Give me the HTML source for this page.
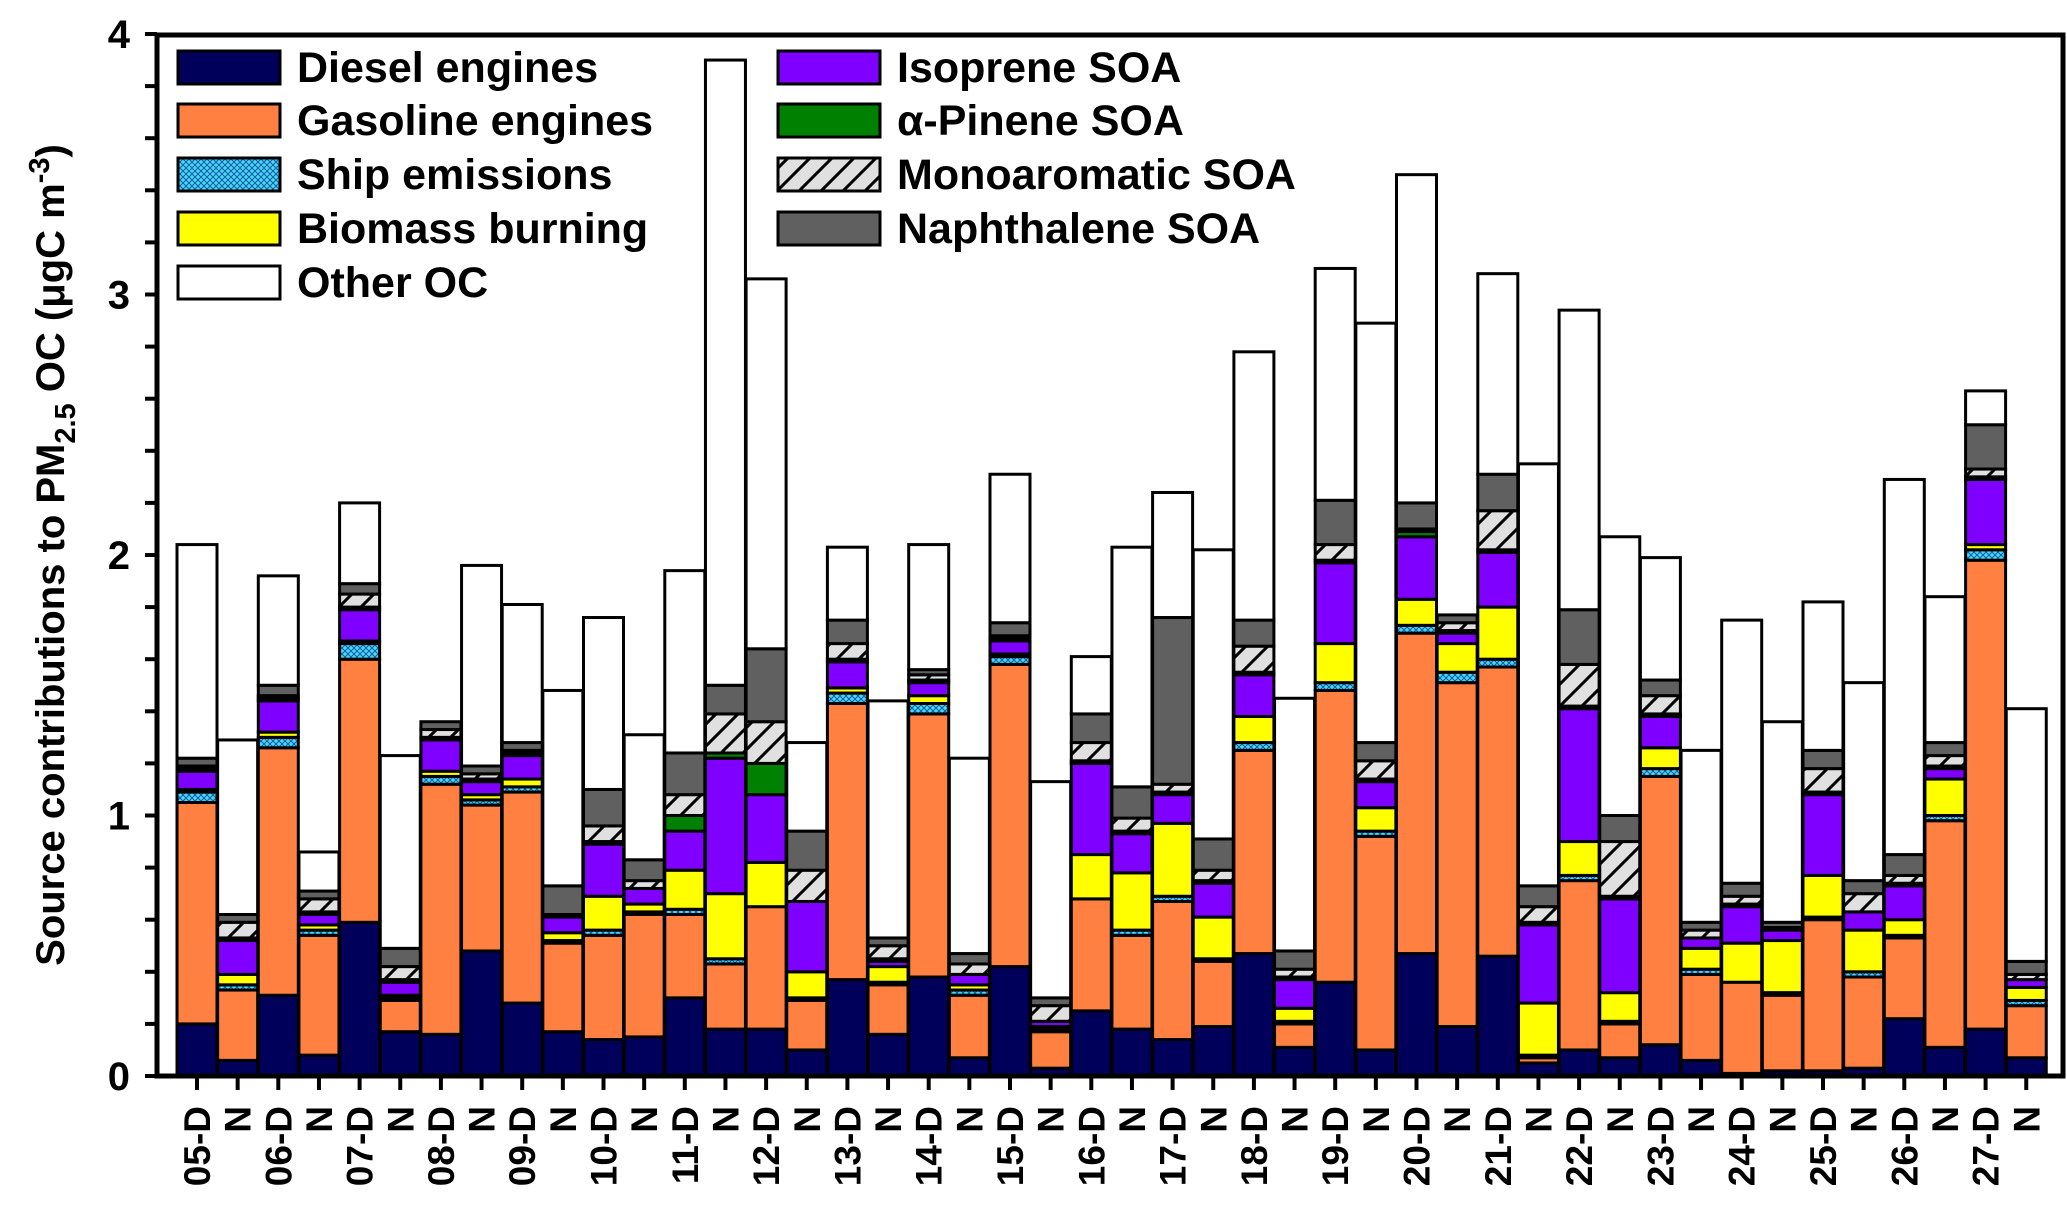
<!DOCTYPE html>
<html><head><meta charset="utf-8"><style>
body{margin:0;background:#fff}
svg text{font-family:"Liberation Sans",Arial,sans-serif;font-weight:bold;fill:#000}
</style></head><body>
<svg id="chart" xmlns="http://www.w3.org/2000/svg" width="2067" height="1207" viewBox="0 0 2067 1207">
<defs>
<pattern id="shipPat" width="6" height="6" patternUnits="userSpaceOnUse"><rect width="6" height="6" fill="#40E0E0"/><path d="M0 0L6 6M6 0L0 6" stroke="#2050c0" stroke-width="1"/></pattern>
<pattern id="monoPat" width="22" height="22" patternUnits="userSpaceOnUse"><rect width="22" height="22" fill="#e0e0e0"/><path d="M-5 27L27 -5M-16 16L16 -16M6 38L38 6" stroke="#000" stroke-width="3"/></pattern>
</defs>
<g id="plot"></g>
<g id="axes"></g>
<g id="legend"></g>
<text transform="translate(64,555) rotate(-90)" text-anchor="middle" font-size="40">Source contributions to PM<tspan font-size="29" dy="11">2.5</tspan><tspan dy="-11"> OC (μgC m</tspan><tspan font-size="29" dy="-15">-3</tspan><tspan dy="15">)</tspan></text>
</svg>
<script>
const categories=["05-D","N","06-D","N","07-D","N","08-D","N","09-D","N","10-D","N","11-D","N","12-D","N","13-D","N","14-D","N","15-D","N","16-D","N","17-D","N","18-D","N","19-D","N","20-D","N","21-D","N","22-D","N","23-D","N","24-D","N","25-D","N","26-D","N","27-D","N"];
// cumulative tops (µgC m-3) of each stacked series
const dieselTop=[0.20,0.06,0.31,0.08,0.59,0.17,0.16,0.48,0.28,0.17,0.14,0.15,0.30,0.18,0.18,0.10,0.37,0.16,0.38,0.07,0.42,0.03,0.25,0.18,0.14,0.19,0.47,0.11,0.36,0.10,0.47,0.19,0.46,0.05,0.10,0.07,0.12,0.06,0.01,0.02,0.02,0.03,0.22,0.11,0.18,0.07];
const gasolineTop=[1.05,0.33,1.26,0.54,1.60,0.29,1.12,1.04,1.09,0.51,0.54,0.62,0.62,0.43,0.65,0.29,1.43,0.35,1.39,0.31,1.58,0.17,0.68,0.54,0.67,0.44,1.25,0.20,1.48,0.92,1.70,1.51,1.57,0.07,0.75,0.20,1.15,0.39,0.36,0.31,0.60,0.38,0.53,0.98,1.98,0.27];
const shipTop=[1.09,0.35,1.30,0.56,1.66,0.30,1.15,1.06,1.11,0.52,0.56,0.63,0.64,0.45,0.65,0.30,1.47,0.36,1.43,0.33,1.61,0.18,0.68,0.56,0.69,0.45,1.28,0.21,1.51,0.94,1.73,1.55,1.60,0.08,0.77,0.21,1.18,0.41,0.36,0.32,0.61,0.40,0.54,1.00,2.02,0.29];
const biomassTop=[1.10,0.39,1.32,0.58,1.67,0.31,1.17,1.08,1.14,0.55,0.69,0.66,0.79,0.70,0.82,0.40,1.49,0.42,1.46,0.35,1.62,0.19,0.85,0.78,0.97,0.61,1.38,0.26,1.66,1.03,1.83,1.66,1.80,0.28,0.90,0.32,1.26,0.49,0.51,0.52,0.77,0.56,0.60,1.14,2.04,0.34];
const isopreneTop=[1.17,0.52,1.44,0.62,1.79,0.36,1.29,1.13,1.23,0.61,0.89,0.72,0.94,1.22,1.08,0.67,1.59,0.44,1.51,0.39,1.67,0.21,1.20,0.93,1.08,0.74,1.54,0.37,1.97,1.13,2.07,1.70,2.01,0.58,1.41,0.68,1.38,0.53,0.65,0.56,1.08,0.63,0.73,1.18,2.29,0.37];
const pineneTop=[1.18,0.53,1.45,0.63,1.80,0.37,1.30,1.14,1.24,0.62,0.90,0.72,1.00,1.24,1.20,0.67,1.60,0.45,1.52,0.39,1.68,0.21,1.21,0.94,1.09,0.75,1.55,0.38,1.98,1.14,2.09,1.71,2.02,0.59,1.42,0.69,1.39,0.53,0.66,0.56,1.09,0.63,0.74,1.19,2.30,0.37];
const monoTop=[1.19,0.59,1.46,0.68,1.85,0.42,1.33,1.16,1.25,0.62,0.96,0.75,1.08,1.39,1.36,0.79,1.66,0.50,1.54,0.43,1.69,0.27,1.28,0.99,1.12,0.79,1.65,0.41,2.04,1.21,2.10,1.74,2.17,0.65,1.58,0.90,1.46,0.56,0.69,0.57,1.18,0.70,0.77,1.23,2.33,0.39];
const naphTop=[1.22,0.62,1.50,0.71,1.89,0.49,1.36,1.19,1.28,0.73,1.10,0.83,1.24,1.50,1.64,0.94,1.75,0.53,1.56,0.47,1.74,0.30,1.39,1.11,1.76,0.91,1.75,0.48,2.21,1.28,2.20,1.77,2.31,0.73,1.79,1.00,1.52,0.59,0.74,0.59,1.25,0.75,0.85,1.28,2.50,0.44];
const totalTop=[2.04,1.29,1.92,0.86,2.20,1.23,1.36,1.96,1.81,1.48,1.76,1.31,1.94,3.90,3.06,1.28,2.03,1.44,2.04,1.22,2.31,1.13,1.61,2.03,2.24,2.02,2.78,1.45,3.10,2.89,3.46,1.77,3.08,2.35,2.94,2.07,1.99,1.25,1.75,1.36,1.82,1.51,2.29,1.84,2.63,1.41];
const yTickLabels=["0","1","2","3","4"];

const NS="http://www.w3.org/2000/svg";
const X0=157,X1=2063,Y0=1076,UNIT=260.5,SLOT=40.65,FIRST=197,BW=40;
function xc(i){return FIRST+i*SLOT;}
function y(v){return Y0-v*UNIT;}
function mk(tag,attrs,parent){const e=document.createElementNS(NS,tag);for(const k in attrs)e.setAttribute(k,attrs[k]);parent.appendChild(e);return e;}
const series=[
 {name:"diesel",tops:dieselTop,fill:"#00005a"},
 {name:"gasoline",tops:gasolineTop,fill:"#ff8040"},
 {name:"ship",tops:shipTop,fill:"url(#shipPat)"},
 {name:"biomass",tops:biomassTop,fill:"#ffff00"},
 {name:"isoprene",tops:isopreneTop,fill:"#8000ff"},
 {name:"pinene",tops:pineneTop,fill:"#008000"},
 {name:"mono",tops:monoTop,fill:"url(#monoPat)"},
 {name:"naph",tops:naphTop,fill:"#606060"},
 {name:"other",tops:totalTop,fill:"#ffffff"}];
const plot=document.getElementById('plot');
categories.forEach((c,i)=>{
  let base=0;
  series.forEach(s=>{
    const top=Math.max(s.tops[i],base);
    const r=mk('rect',{x:xc(i)-BW/2,y:y(top),width:BW,height:Math.max(0,y(base)-y(top)),fill:s.fill,stroke:"#000","stroke-width":3},plot);
    
    
    base=top;
  });
});
const ax=document.getElementById('axes');
const frame=mk('path',{d:`M${X0} ${Y0}L${X0} 35L${X1} 35L${X1} ${Y0}Z`,fill:"none",stroke:"#000","stroke-width":5},ax);


for(let k=0;k<=20;k++){
  const v=k*0.2;
  const t=mk('line',{x1:X0-12,x2:X0,y1:y(v),y2:y(v),stroke:"#000","stroke-width":4},ax);
  
  
}
yTickLabels.forEach((l,k)=>{
  const t=mk('text',{x:130,y:y(+l)+14,"text-anchor":"end","font-size":40},ax);
  t.textContent=l;
  
  
});
categories.forEach((c,i)=>{
  const t=mk('line',{x1:xc(i),x2:xc(i),y1:Y0,y2:Y0+14,stroke:"#000","stroke-width":4},ax);
  
  
  const l=mk('text',{transform:`translate(${xc(i)+13},1106) rotate(-90)`,"text-anchor":"end","font-size":37},ax);
  l.textContent=c;
  
  
});
const leg=document.getElementById('legend');
const items=[["Diesel engines","#00005a",178,51],["Gasoline engines","#ff8040",178,104],["Ship emissions","url(#shipPat)",178,158],["Biomass burning","#ffff00",178,212],["Other OC","#ffffff",178,266],
["Isoprene SOA","#8000ff",778,51],["α-Pinene SOA","#008000",778,104],["Monoaromatic SOA","url(#monoPat)",778,158],["Naphthalene SOA","#606060",778,212]];
items.forEach(it=>{
  const g=mk('g',{},leg);
  
  
  mk('rect',{x:it[2],y:it[3],width:102,height:33,fill:it[1],stroke:"#000","stroke-width":3},g);
  const t=mk('text',{x:it[2]+119,y:it[3]+31,"font-size":43},g);
  t.textContent=it[0];
});
</script>
</body></html>
